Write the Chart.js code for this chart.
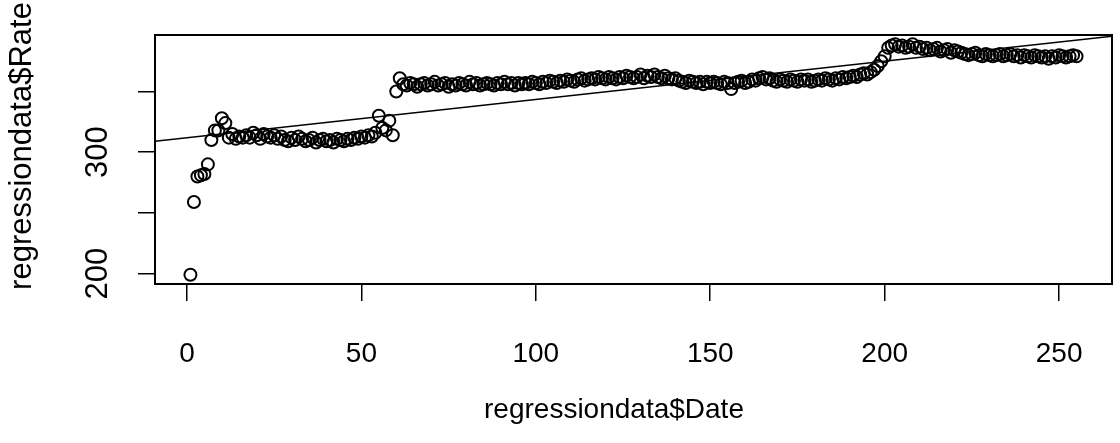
<!DOCTYPE html>
<html>
<head>
<meta charset="utf-8">
<script src="https://cdn.jsdelivr.net/npm/chart.js@4/dist/chart.umd.min.js"></script>
<style>
  html, body { margin: 0; padding: 0; background: #fff; }
  #wrap { width: 1120px; height: 443px; }
</style>
</head>
<body>
<div id="wrap"><canvas id="rate-chart" width="1120" height="443"></canvas></div>
<script>
// regressiondata$Rate, one value per Date (Date = 1..255)
const rates = [
  199, 259, 280, 281, 282, 290, 310, 318, 318, 328, 324, 312,
  315, 311, 313, 312, 314, 312, 316, 314, 311, 315, 313, 312, 314,
  311, 313, 310, 309, 312, 310, 313, 311, 309, 310, 312, 308, 310,
  311, 309, 310, 308, 311, 310, 309, 311, 310, 312, 311, 313, 312,
  314, 313, 316, 330, 320, 318, 326, 314, 350, 361, 356,
  355, 357, 356, 354, 356, 357, 355, 356, 358, 355, 356, 357, 354,
  356, 355, 357, 356, 355, 358, 356, 357, 355, 356, 357, 356, 355,
  357, 356, 358, 356, 357, 355, 357,
  356, 357, 356, 358, 357, 356, 358, 357, 359, 358, 357, 359, 358,
  360, 359, 358, 360, 361, 359, 360, 361, 360, 362, 361, 360, 362,
  361, 360, 362, 361, 363, 362, 361,
  362, 364, 361, 363, 362, 364, 362, 361, 363, 361, 360, 361, 359,
  358, 357, 359, 358, 357, 358, 356, 358, 357, 358, 357, 356, 358, 357,
  352,
  357, 358, 359, 357, 358, 360, 359,
  361, 362, 360, 361,
  359, 358, 360, 359, 358, 360, 359, 358, 360, 359, 360, 358, 359,
  360, 359, 361, 360, 359, 361, 360, 362, 361, 362,
  363, 362, 364, 365, 364, 366,
  368, 371, 375, 379,
  386, 388, 389, 387, 388, 386, 387, 389, 386, 387,
  385, 386, 384, 385, 386, 383, 384, 385, 382, 384,
  383, 382, 381, 380, 381, 382, 380, 379, 381, 380, 379, 380, 381,
  379, 380, 381, 379, 380, 378, 380,
  379, 378, 380, 379, 378, 379, 377, 379, 378, 380, 379, 378, 379, 380, 379
];
const dates = rates.map((r, i) => i + 1);

const xTicks = [0, 50, 100, 150, 200, 250];
const yTicks = [200, 250, 300, 350];
const yLabels = [200, 300];   // R drops the 250 / 350 labels

const xRange = [-9.16, 265.16];
const yRange = [191.4, 396.6];

const xTitle = 'regressiondata$Date';
const yTitle = 'regressiondata$Rate';

// least squares fit, same as abline(lm(Rate ~ Date))
function fitLine(xs, ys) {
  const n = xs.length;
  let sx = 0, sy = 0;
  for (let i = 0; i < n; i++) { sx += xs[i]; sy += ys[i]; }
  const mx = sx / n, my = sy / n;
  let sxy = 0, sxx = 0;
  for (let i = 0; i < n; i++) {
    sxy += (xs[i] - mx) * (ys[i] - my);
    sxx += (xs[i] - mx) * (xs[i] - mx);
  }
  const b = sxy / sxx;
  return { a: my - b * mx, b: b };
}
const fit = fitLine(dates, rates);

const points = dates.map((d, i) => ({ x: d, y: rates[i] }));
const fitPoints = xRange.map(x => ({ x: x, y: fit.a + fit.b * x }));

const FONT = "'Liberation Sans', Arial, sans-serif";
const FSIZE = 28;     // horizontal text
const VSIZE = 31;     // rotated text on the left

// R style box, y labels and axis titles
const rStyle = {
  id: 'rStyle',
  beforeDatasetsDraw(chart) {
    const { ctx, chartArea: a } = chart;
    ctx.save();
    ctx.strokeStyle = '#000';
    ctx.lineWidth = 2;
    ctx.strokeRect(a.left, a.top, a.right - a.left, a.bottom - a.top);
    ctx.restore();
  },
  afterDraw(chart) {
    const { ctx } = chart;
    const ys = chart.scales.y;
    ctx.save();
    ctx.fillStyle = '#000';
    ctx.textAlign = 'center';
    ctx.textBaseline = 'middle';
    ctx.font = VSIZE + 'px ' + FONT;
    yLabels.forEach(v => {
      ctx.save();
      ctx.translate(98, ys.getPixelForValue(v));
      ctx.rotate(-Math.PI / 2);
      ctx.fillText(String(v), 0, 0);
      ctx.restore();
    });
    ctx.save();
    ctx.translate(22, 146);
    ctx.rotate(-Math.PI / 2);
    ctx.fillText(yTitle, 0, 0);
    ctx.restore();
    ctx.font = FSIZE + 'px ' + FONT;
    ctx.fillText(xTitle, 614, 410);
    ctx.restore();
  }
};

new Chart(document.getElementById('rate-chart'), {
  type: 'scatter',
  data: {
    datasets: [{
      label: 'Rate',
      data: points,
      pointStyle: 'circle',
      pointRadius: 6,
      pointBorderWidth: 2,
      pointBorderColor: '#000',
      pointBackgroundColor: 'rgba(0,0,0,0)',
      showLine: false
    }, {
      label: 'fit',
      data: fitPoints,
      showLine: true,
      borderColor: '#000',
      borderWidth: 1.4,
      pointRadius: 0
    }]
  },
  plugins: [rStyle],
  options: {
    responsive: false,
    animation: false,
    events: [],
    layout: { padding: { left: 0, right: 3, top: 35, bottom: 0 } },
    plugins: { legend: { display: false }, tooltip: { enabled: false } },
    scales: {
      x: {
        type: 'linear',
        min: xRange[0],
        max: xRange[1],
        afterBuildTicks: s => { s.ticks = xTicks.map(v => ({ value: v })); },
        afterFit: s => { s.height = 443 - 284; },
        grid: { drawOnChartArea: false, tickLength: 17, color: '#000', lineWidth: 1.5 },
        border: { display: true, color: '#000', width: 2 },
        ticks: {
          color: '#000',
          padding: 36,
          maxRotation: 0,
          autoSkip: false,
          font: { family: FONT, size: FSIZE }
        }
      },
      y: {
        type: 'linear',
        min: yRange[0],
        max: yRange[1],
        afterBuildTicks: s => { s.ticks = yTicks.map(v => ({ value: v })); },
        afterFit: s => { s.width = 155; },
        grid: { drawOnChartArea: false, tickLength: 17, color: '#000', lineWidth: 1.5 },
        border: { display: true, color: '#000', width: 2 },
        ticks: { callback: () => '', font: { family: FONT, size: FSIZE } }
      }
    }
  }
});
</script>
</body>
</html>
